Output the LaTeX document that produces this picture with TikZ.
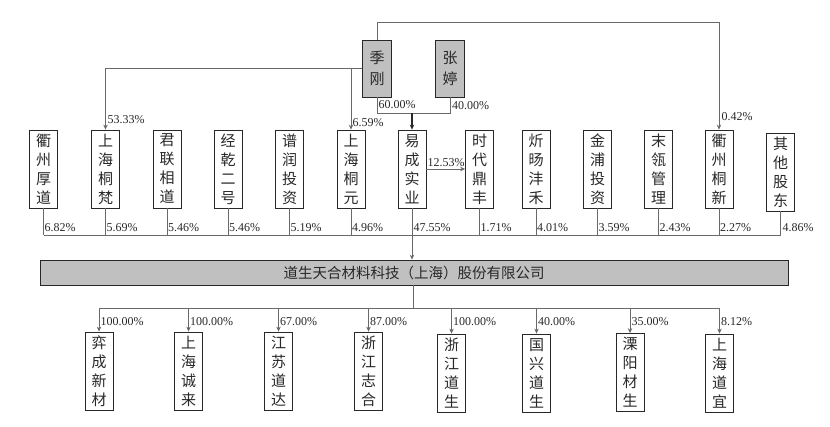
\documentclass[tikz,border=0pt]{standalone}
\usepackage{fontspec}
\setmainfont{Liberation Serif}
\newfontfamily\cjk{Noto Sans CJK SC}
\usetikzlibrary{arrows.meta}
\definecolor{linec}{RGB}{105,105,105}
\definecolor{boxfill}{RGB}{192,192,192}
\definecolor{txtc}{RGB}{40,40,40}
\tikzset{
  ent/.style={draw=txtc, line width=0.8pt, minimum width=28pt, minimum height=78pt, inner sep=0pt,
    align=center, text=txtc, font=\cjk\fontsize{15}{19}\selectfont},
  person/.style={ent, fill=boxfill, minimum width=29pt, minimum height=57pt, font=\cjk\fontsize{15}{21}\selectfont},
  comp/.style={draw=txtc, line width=0.8pt, fill=boxfill, minimum width=748pt, minimum height=25pt, inner sep=0pt,
    text=txtc, font=\cjk\fontsize{14.5}{17}\selectfont},
  pct/.style={anchor=west, inner sep=0.5pt, text=txtc, font=\fontsize{12}{13}\selectfont},
  ln/.style={draw=linec, line width=0.8pt},
  arr/.style={ln, -{Stealth[length=5pt,width=4.5pt]}},
}
\begin{document}
\begin{tikzpicture}[x=1pt,y=-1pt]
\useasboundingbox (0,0) rectangle (830,426);
% persons
\node[person] (jg) at (377,68.5) {季\\刚};
\node[person] (zt) at (450,68.5) {张\\婷};
% middle row
\node[ent] (m1) at (43.5,169) {衢\\州\\厚\\道};
\node[ent] (m2) at (105.5,169) {上\\海\\桐\\梵};
\node[ent] (m3) at (167,169) {君\\联\\相\\道};
\node[ent] (m4) at (228,169) {经\\乾\\二\\号};
\node[ent] (m5) at (289.5,169) {谱\\润\\投\\资};
\node[ent] (m6) at (351,169) {上\\海\\桐\\元};
\node[ent] (m7) at (412,169) {易\\成\\实\\业};
\node[ent] (m8) at (479.5,169) {时\\代\\鼎\\丰};
\node[ent] (m9) at (536,169) {炘\\旸\\沣\\禾};
\node[ent] (m10) at (597.5,169) {金\\浦\\投\\资};
\node[ent] (m11) at (658.5,169) {末\\瓴\\管\\理};
\node[ent] (m12) at (719,169) {衢\\州\\桐\\新};
\node[ent] (m13) at (780.5,172) {其\\他\\股\\东};
% company
\node[comp] (co) at (414,272.5) {道生天合材料科技（上海）股份有限公司};
% subsidiaries
\node[ent] (s1) at (99,371) {弈\\成\\新\\材};
\node[ent] (s2) at (188.5,371) {上\\海\\诚\\来};
\node[ent] (s3) at (278.5,371) {江\\苏\\道\\达};
\node[ent] (s4) at (368.5,371) {浙\\江\\志\\合};
\node[ent] (s5) at (451.5,373) {浙\\江\\道\\生};
\node[ent] (s6) at (536.5,373) {国\\兴\\道\\生};
\node[ent] (s7) at (630,372.5) {溧\\阳\\材\\生};
\node[ent] (s8) at (719.5,373) {上\\海\\道\\宜};
% coordinates
\coordinate (top) at (377,22);
\coordinate (lft) at (351,68);
\coordinate (j1) at (377,113);
\coordinate (j2) at (450,113);
\coordinate (jm) at (412,113);
\coordinate (busL) at (43.5,235);
\coordinate (busR) at (780.5,235);
\coordinate (bus2) at (413,308);
% top connectors
\draw[arr] (jg.north) -- (top) -| (m12.north);
\draw[arr] (jg.west |- lft) -| (m2.north);
\draw[arr] (lft) -- (m6.north);
\draw[ln] (jg.south) -- (j1) -- (j2) -- (zt.south);
\draw[arr, line width=1.2pt, draw=txtc] (jm) -- (m7.north);
\draw[arr] (m7.east) -- (m8.west);
\node[pct] at (107,120) {53.33\%};
\node[pct] at (352,123) {6.59\%};
\node[pct] at (378,105) {60.00\%};
\node[pct] at (451.5,106) {40.00\%};
\node[pct] at (721,117) {0.42\%};
\node[pct, anchor=south] at (446,167) {12.53\%};
% middle bus
\draw[ln] (busL) -- (busR);
\foreach \n in {m1,m2,m3,m4,m5,m6,m8,m9,m10,m11,m12,m13}{
  \draw[ln] (\n.south) -- (\n.south |- busL);
}
\draw[arr] (m7.south) -- (m7.south |- co.north);
\node[pct] at (44,228) {6.82\%};
\node[pct] at (106,228) {5.69\%};
\node[pct] at (167.5,228) {5.46\%};
\node[pct] at (228.5,228) {5.46\%};
\node[pct] at (290,228) {5.19\%};
\node[pct] at (351.5,228) {4.96\%};
\node[pct] at (413,228) {47.55\%};
\node[pct] at (480,228) {1.71\%};
\node[pct] at (536.5,228) {4.01\%};
\node[pct] at (598,228) {3.59\%};
\node[pct] at (659,228) {2.43\%};
\node[pct] at (719.5,228) {2.27\%};
\node[pct] at (782,228) {4.86\%};
% bottom
\draw[ln] (co.south -| bus2) -- (bus2);
\draw[ln] (s1.north |- bus2) -- (s8.north |- bus2);
\foreach \n in {s1,s2,s3,s4,s5,s6,s7,s8}{
  \draw[arr] (\n.north |- bus2) -- (\n.north);
}
\node[pct] at (100,322) {100.00\%};
\node[pct] at (189.5,322) {100.00\%};
\node[pct] at (279.5,322) {67.00\%};
\node[pct] at (369.5,322) {87.00\%};
\node[pct] at (452.5,322) {100.00\%};
\node[pct] at (537.5,322) {40.00\%};
\node[pct] at (631,322) {35.00\%};
\node[pct] at (720.5,322) {8.12\%};
\end{tikzpicture}
\end{document}
